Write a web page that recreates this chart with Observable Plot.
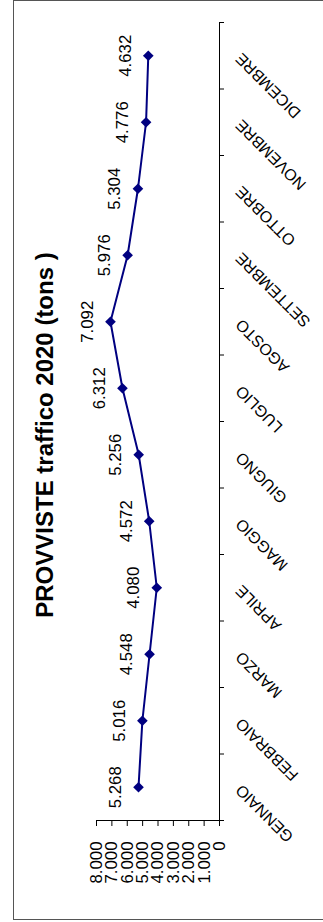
<!DOCTYPE html>
<html>
<head>
<meta charset="utf-8">
<script src="https://cdn.jsdelivr.net/npm/d3@7"></script>
<script src="https://cdn.jsdelivr.net/npm/@observablehq/plot@0.6"></script>
<style>
html, body { margin: 0; padding: 0; background: #fff; overflow: hidden; width: 323px; height: 922px; }
#frame { position: absolute; left: 13px; top: 0; width: 330px; height: 918px;
  border-left: 1px solid #555; border-top: 1px solid #555; border-bottom: 1px solid #555; }
#chart { position: absolute; left: 0; top: 0; width: 922px; height: 323px;
  transform-origin: 0 0; transform: translate(0, 922px) rotate(-90deg);
  font-family: "Liberation Sans", Arial, sans-serif; color: #000; }
#title { height: 60px; box-sizing: border-box; padding-top: 31px; padding-left: 52px;
  line-height: 28px; font-size: 24px; font-weight: bold; text-align: center; white-space: pre; }
#chart svg { display: block; }
</style>
</head>
<body>
<div id="frame"></div>
<div id="chart"><div id="title"></div></div>
<script>
const title = "PROVVISTE traffico 2020 (tons )";
const months = ["GENNAIO", "FEBBRAIO", "MARZO", "APRILE", "MAGGIO", "GIUGNO",
  "LUGLIO", "AGOSTO", "SETTEMBRE", "OTTOBRE", "NOVEMBRE", "DICEMBRE"];
const values = [5268, 5016, 4548, 4080, 4572, 5256, 6312, 7092, 5976, 5304, 4776, 4632];
const valueTicks = [0, 1000, 2000, 3000, 4000, 5000, 6000, 7000, 8000];

const it = d3.formatLocale({decimal: ",", thousands: ".", grouping: [3], currency: ["", " €"]});
const fmt = it.format(",d");

document.getElementById("title").textContent = title;

const data = months.map((m, i) => ({i, month: m, value: values[i]}));
const bounds = d3.range(months.length + 1).map(k => k - 0.5);

const chart = Plot.plot({
  width: 922,
  height: 263,
  marginLeft: 101,
  marginRight: 23,
  marginTop: 36,
  marginBottom: 104,
  style: {fontFamily: "'Liberation Sans', Arial, sans-serif", fontSize: "16.8px", color: "#000", background: "transparent", overflow: "visible"},
  x: {type: "linear", domain: [-0.5, months.length - 0.5]},
  y: {domain: [0, 8000]},
  marks: [
    Plot.axisY({ticks: valueTicks, tickSize: 5, tickPadding: 16, tickFormat: fmt, label: null, anchor: "left", fontSize: 16.8}),
    Plot.axisX({ticks: bounds, tickSize: 5, tickFormat: () => "", label: null, anchor: "bottom"}),
    Plot.ruleY([0], {stroke: "#000"}),
    Plot.ruleX([-0.5], {stroke: "#000"}),
    Plot.text(data, {x: "i", y: () => 0, text: "month", rotate: -45, textAnchor: "end", lineAnchor: "middle", dy: 19, dx: 0, fontSize: 16}),
    Plot.line(data, {x: "i", y: "value", stroke: "#000080", strokeWidth: 2}),
    Plot.dot(data, {x: "i", y: "value", symbol: "diamond2", r: 4.8, fill: "#000080", stroke: "none"}),
    Plot.text(data, {x: "i", y: "value", text: d => fmt(d.value), dy: -23, lineAnchor: "middle", fontSize: 16.8})
  ]
});
document.getElementById("chart").appendChild(chart);
</script>
</body>
</html>
